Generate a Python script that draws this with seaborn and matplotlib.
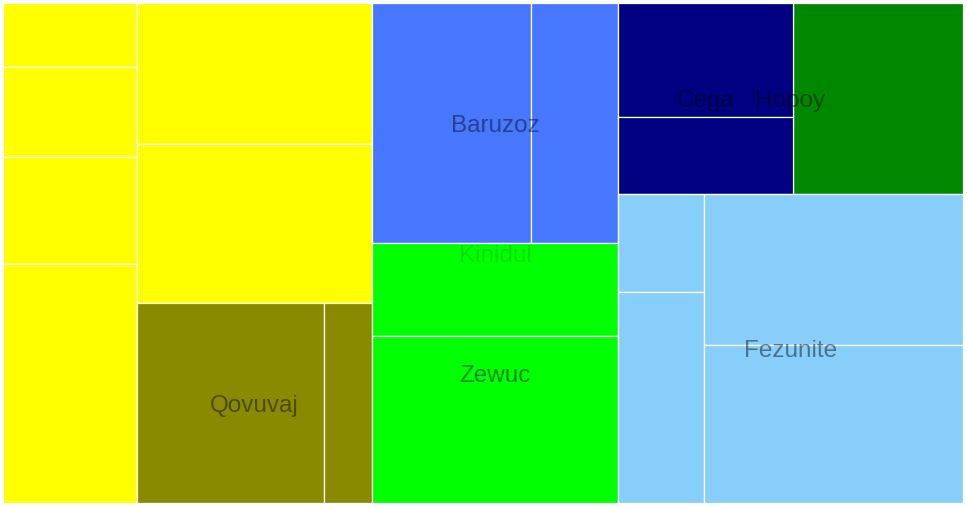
import math
import matplotlib
matplotlib.use("Agg")
import matplotlib.pyplot as plt
from matplotlib.patches import Rectangle
import seaborn as sns

sns.set_theme(style="white")
plt.rcParams['font.family'] = ['Liberation Sans', 'DejaVu Sans']

# tree: id, parent, shown label, leaf value (0 for groups)
node_id = ["left", "kinidul", "right",
           "y1", "y2", "y3", "y4", "mid",
           "y5", "y6", "qovuvaj", "q1", "q2",
           "baruzoz", "zewuc", "b1", "b2", "z1", "z2",
           "hopoy", "fezunite", "cega", "h1", "c1", "c2",
           "f1", "f2", "f3", "f4"]
node_parent = ["", "", "",
               "left", "left", "left", "left", "left",
               "mid", "mid", "mid", "qovuvaj", "qovuvaj",
               "kinidul", "kinidul", "baruzoz", "baruzoz", "zewuc", "zewuc",
               "right", "right", "hopoy", "hopoy", "cega", "cega",
               "fezunite", "fezunite", "fezunite", "fezunite"]
node_label = ["", "Kinidul", "",
              "", "", "", "", "",
              "", "", "Qovuvaj", "", "",
              "Baruzoz", "Zewuc", "", "", "", "",
              "Hopoy", "Fezunite", "Cega", "", "", "",
              "", "", "", ""]
node_value = [0, 0, 0,
              86, 121, 143, 320, 0,
              331, 374, 0, 374, 96,
              0, 0, 383, 208, 228, 411,
              0, 0, 0, 325, 200, 135,
              84, 182, 391, 409]

group_colors = {
    "left": "#ffff00",
    "qovuvaj": "#8a8a00",
    "baruzoz": "#4877ff",
    "zewuc": "#00ff00",
    "kinidul": "#00ff00",
    "hopoy": "#008800",
    "cega": "#000080",
    "fezunite": "#87cefa",
}

W, H = 960.0, 500.0

children = {}
for nid, par in zip(node_id, node_parent):
    children.setdefault(par, []).append(nid)
value_of = dict(zip(node_id, node_value))


def total(nid):
    kids = children.get(nid, [])
    if not kids:
        return value_of[nid]
    return sum(total(k) for k in kids)


def ratio(a, b):
    return max(a / b, b / a)


def low_aspect(x0, y0, w0, h0, vals):
    """Squarified layout that flips direction after every strip."""
    s = sum(vals)
    areas = [w0 * h0 * v / s for v in vals]
    g = dict(direction=0, width=w0, height=h0, total=0.0, elems=[],
             nW=0.0, lW=0.0, nH=0.0, lH=0.0, lR=math.nan, nR=math.nan)
    pos = {"x": x0, "y": y0}
    rects = []

    def add(el):
        last = g["elems"][-1] if g["elems"] else None
        g["total"] += el
        if g["direction"] == 0:
            g["lW"] = g["nW"]
            g["nW"] = g["total"] / g["height"]
            if last is None:
                g["lR"] = g["nR"] = math.nan
            else:
                g["lR"] = ratio(g["lW"], last / g["lW"])
                g["nR"] = ratio(g["nW"], last / g["nW"])
        else:
            g["lH"] = g["nH"]
            g["nH"] = g["total"] / g["width"]
            if last is None:
                g["lR"] = g["nR"] = math.nan
            else:
                g["lR"] = ratio(last / g["lH"], g["lH"])
                g["nR"] = ratio(last / g["nH"], g["nH"])
        g["elems"].append(el)

    def calc(is_last):
        if is_last:
            gw, gh = g["nW"], g["nH"]
        else:
            gw, gh = g["lW"], g["lH"]
            keep = g["elems"][-1]
        n = len(g["elems"])
        for i, p in enumerate(g["elems"]):
            if is_last or i < n - 1:
                if g["direction"] == 0:
                    rects.append((pos["x"], pos["y"], gw, p / gw))
                    pos["y"] += p / gw
                else:
                    rects.append((pos["x"], pos["y"], p / gh, gh))
                    pos["x"] += p / gh
        g["nW"] = g["lW"] = g["total"] = 0.0
        g["elems"] = []
        if g["direction"] == 0:
            g["width"] -= gw
        else:
            g["height"] -= gh
        pos["y"] = y0 + (h0 - g["height"])
        pos["x"] = x0 + (w0 - g["width"])
        g["direction"] = 1 - g["direction"]
        if not is_last:
            add(keep)

    for i, a in enumerate(areas):
        add(a)
        if g["nR"] > g["lR"]:
            calc(False)
        if i == len(areas) - 1:
            calc(True)
    return rects


boxes = {}


def layout(nid, x, y, w, h, depth):
    boxes[nid] = (x, y, w, h, depth)
    kids = children.get(nid, [])
    if not kids:
        return
    rects = low_aspect(x, y, w, h, [total(k) for k in kids])
    for k, r in zip(kids, rects):
        layout(k, *r, depth + 1)


layout("", 0, 0, W, H, 0)

parent_of = dict(zip(node_id, node_parent))


def color_for(nid):
    while nid:
        if nid in group_colors:
            return group_colors[nid]
        nid = parent_of[nid]
    return "#cccccc"


fig = plt.figure(figsize=(9.67, 5.07), dpi=100)
ax = fig.add_axes([3 / 967, 4 / 507, 960 / 967, 500 / 507])
ax.set_xlim(0, W)
ax.set_ylim(H, 0)
ax.axis("off")

for nid, lab in zip(node_id, node_label):
    if children.get(nid):
        continue
    x, y, w, h, d = boxes[nid]
    ax.add_patch(Rectangle((x, y), w, h, facecolor=color_for(nid),
                           edgecolor="white", linewidth=0.9))

for nid, lab in zip(node_id, node_label):
    if not lab:
        continue
    x, y, w, h, d = boxes[nid]
    alpha = 0.12 if d == 1 else 0.45
    ax.text(x + w / 2, y + h / 2 + 2.5, lab, ha="center", va="center",
            fontsize=17.5, color="black", alpha=alpha)

fig.savefig("out.png", dpi=100, facecolor="white")
